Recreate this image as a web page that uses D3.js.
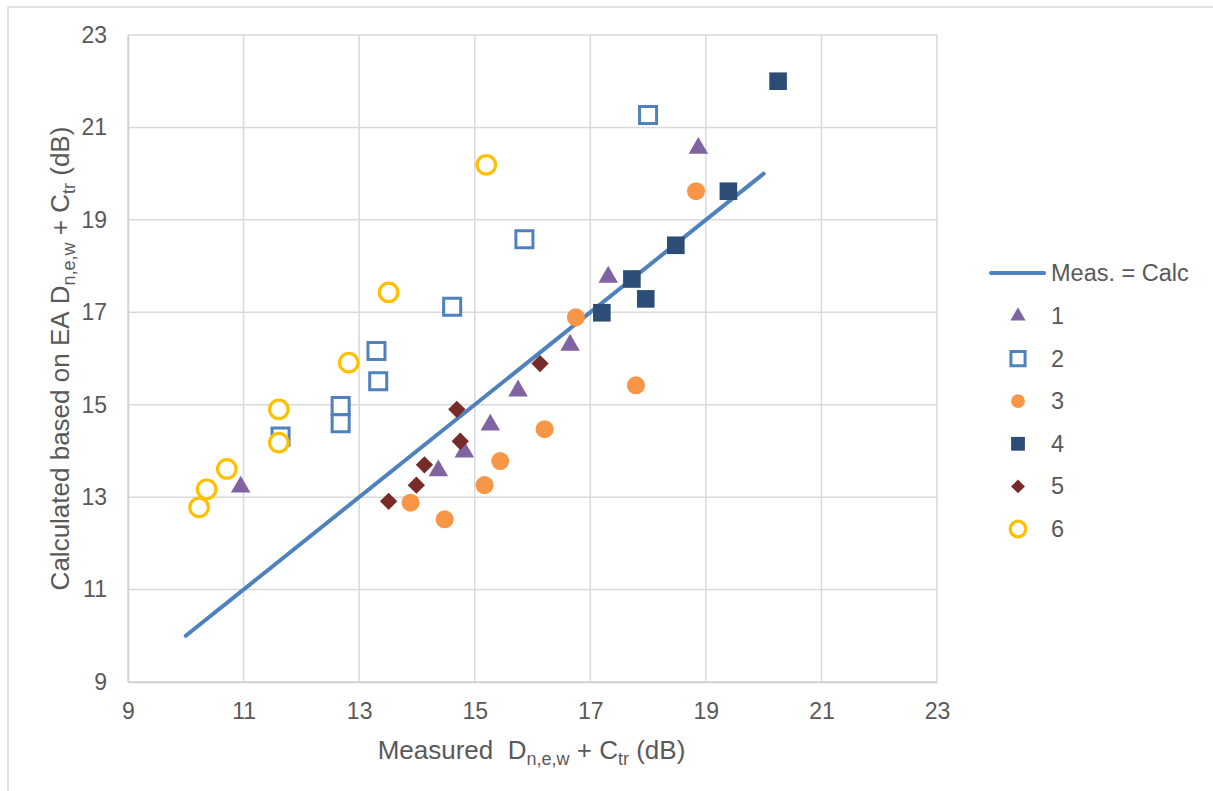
<!DOCTYPE html>
<html>
<head>
<meta charset="utf-8">
<script src="https://cdn.jsdelivr.net/npm/d3@7"></script>
<style>
  body { margin: 0; background: #fff; }
  text { font-family: Arial, "Liberation Sans", sans-serif; fill: #595959; }
</style>
</head>
<body>
<div id="chart"></div>
<script>
// values
var lineX = [10, 20], lineY = [10, 20];

var s1x = [10.95, 14.37, 14.82, 15.27, 15.75, 16.65, 17.31, 18.87];
var s1y = [13.20, 13.55, 13.96, 14.54, 15.28, 16.27, 17.74, 20.53];

var s2x = [11.64, 12.68, 12.68, 13.30, 13.33, 14.61, 15.86, 18.00];
var s2y = [14.31, 14.97, 14.60, 16.16, 15.51, 17.12, 18.58, 21.27];

var s3x = [13.89, 14.48, 15.17, 15.44, 16.21, 16.75, 17.79, 18.83];
var s3y = [12.88, 12.52, 13.26, 13.78, 14.47, 16.89, 15.42, 19.62];

var s4x = [17.20, 17.72, 17.96, 18.48, 19.39, 20.25];
var s4y = [16.99, 17.72, 17.29, 18.45, 19.62, 22.00];

var s5x = [13.51, 13.99, 14.13, 14.69, 14.75, 16.13];
var s5y = [12.91, 13.26, 13.70, 14.90, 14.21, 15.89];

var s6x = [10.23, 10.36, 10.71, 11.61, 11.61, 12.82, 13.51, 15.20];
var s6y = [12.78, 13.17, 13.61, 14.90, 14.18, 15.91, 17.43, 20.19];

var ticks = [9, 11, 13, 15, 17, 19, 21, 23];
var seriesNames = ["1", "2", "3", "4", "5", "6"];

var W = 1213, H = 791;
var margin = {top: 35, left: 128, right: 1213 - 937, bottom: 791 - 682};
var width = W - margin.left - margin.right,
    height = H - margin.top - margin.bottom;

var svg = d3.select("#chart").append("svg")
  .attr("width", W).attr("height", H);

// outer chart frame (only top and left fall inside the picture)
svg.append("rect")
  .attr("x", 8).attr("y", 7).attr("width", 1300).attr("height", 900)
  .attr("fill", "none").attr("stroke", "#d9d9d9").attr("stroke-width", 1.5);

var g = svg.append("g")
  .attr("transform", "translate(" + margin.left + "," + margin.top + ")");

var x = d3.scaleLinear().domain([9, 23]).range([0, width]);
var y = d3.scaleLinear().domain([9, 23]).range([height, 0]);

// grid
g.selectAll("line.vgrid").data(ticks).enter().append("line")
  .attr("x1", d => x(d)).attr("x2", d => x(d))
  .attr("y1", 0).attr("y2", height)
  .attr("stroke", "#d9d9d9").attr("stroke-width", 1.5);
g.selectAll("line.hgrid").data(ticks).enter().append("line")
  .attr("x1", 0).attr("x2", width)
  .attr("y1", d => y(d)).attr("y2", d => y(d))
  .attr("stroke", "#d9d9d9").attr("stroke-width", 1.5);

// axes
var xAxis = g.append("g").attr("transform", "translate(0," + height + ")")
  .call(d3.axisBottom(x).tickValues(ticks).tickSize(0).tickPadding(21));
var yAxis = g.append("g")
  .call(d3.axisLeft(y).tickValues(ticks).tickSize(0).tickPadding(21));
[xAxis, yAxis].forEach(function(a) {
  a.select(".domain").attr("stroke", "#d0d0d0").attr("stroke-width", 1.5);
  a.selectAll("text").style("font-size", "23px").attr("fill", "#595959")
    .style("font-family", "Arial, 'Liberation Sans', sans-serif");
});

// titles with subscripts
function title(t, main) {
  t.append("tspan").text(main + "\u00a0D");
  t.append("tspan").attr("dy", 6).style("font-size", "18px").text("n,e,w");
  t.append("tspan").attr("dy", -6).text(" + C");
  t.append("tspan").attr("dy", 6).style("font-size", "18px").text("tr");
  t.append("tspan").attr("dy", -6).text(" (dB)");
}
var xt = svg.append("text")
  .attr("x", margin.left + width / 2 - 1).attr("y", 759)
  .attr("text-anchor", "middle").style("font-size", "26px");
title(xt, "Measured ");

var yt = svg.append("text")
  .attr("transform", "translate(69," + (margin.top + height / 2) + ") rotate(-90)")
  .attr("text-anchor", "middle").style("font-size", "26px");
title(yt, "Calculated based on EA");

// Meas. = Calc line
g.append("line")
  .attr("x1", x(lineX[0])).attr("y1", y(lineY[0]))
  .attr("x2", x(lineX[1])).attr("y2", y(lineY[1]))
  .attr("stroke", "#4f81bd").attr("stroke-width", 4).attr("stroke-linecap", "round");

var styles = [
  {shape: d3.symbolTriangle, size: 165, lsize: 100, fill: "#8064a2", stroke: "none", sw: 0, rot: 0, dy: -1},
  {shape: d3.symbolSquare, size: 290, lsize: 200, fill: "#fff", stroke: "#4f81bd", sw: 3, rot: 0, dy: 0},
  {shape: d3.symbolCircle, size: 255, lsize: 150, fill: "#f79646", stroke: "none", sw: 0, rot: 0, dy: 0},
  {shape: d3.symbolSquare, size: 310, lsize: 190, fill: "#2c4d75", stroke: "none", sw: 0, rot: 0, dy: 0},
  {shape: d3.symbolSquare, size: 150, lsize: 95, fill: "#772c2a", stroke: "none", sw: 0, rot: 45, dy: 0},
  {shape: d3.symbolCircle, size: 270, lsize: 190, fill: "#fff", stroke: "#ffc000", sw: 3.2, rot: 0, dy: 0}
];
var xs = [s1x, s2x, s3x, s4x, s5x, s6x];
var ys = [s1y, s2y, s3y, s4y, s5y, s6y];

styles.forEach(function(st, i) {
  var pts = xs[i].map(function(v, j) { return [v, ys[i][j]]; });
  g.selectAll("path.s" + i).data(pts).enter().append("path")
    .attr("class", "s" + i)
    .attr("d", d3.symbol().type(st.shape).size(st.size))
    .attr("transform", d => "translate(" + x(d[0]) + "," + (y(d[1]) + st.dy) + ") rotate(" + st.rot + ")")
    .attr("fill", st.fill).attr("stroke", st.stroke).attr("stroke-width", st.sw);
});

// legend
var lg = svg.append("g");
lg.append("line").attr("x1", 991).attr("x2", 1044).attr("y1", 273).attr("y2", 273)
  .attr("stroke", "#4f81bd").attr("stroke-width", 4).attr("stroke-linecap", "round");
lg.append("text").attr("x", 1051).attr("y", 281).style("font-size", "23.5px").text("Meas. = Calc");
styles.forEach(function(st, i) {
  var cy = 316 + i * 42.6;
  lg.append("path")
    .attr("d", d3.symbol().type(st.shape).size(st.lsize))
    .attr("transform", "translate(1018," + cy + ") rotate(" + st.rot + ")")
    .attr("fill", st.fill).attr("stroke", st.stroke).attr("stroke-width", st.sw);
  lg.append("text").attr("x", 1051).attr("y", cy + 8).style("font-size", "23.5px").text(seriesNames[i]);
});
</script>
</body>
</html>
